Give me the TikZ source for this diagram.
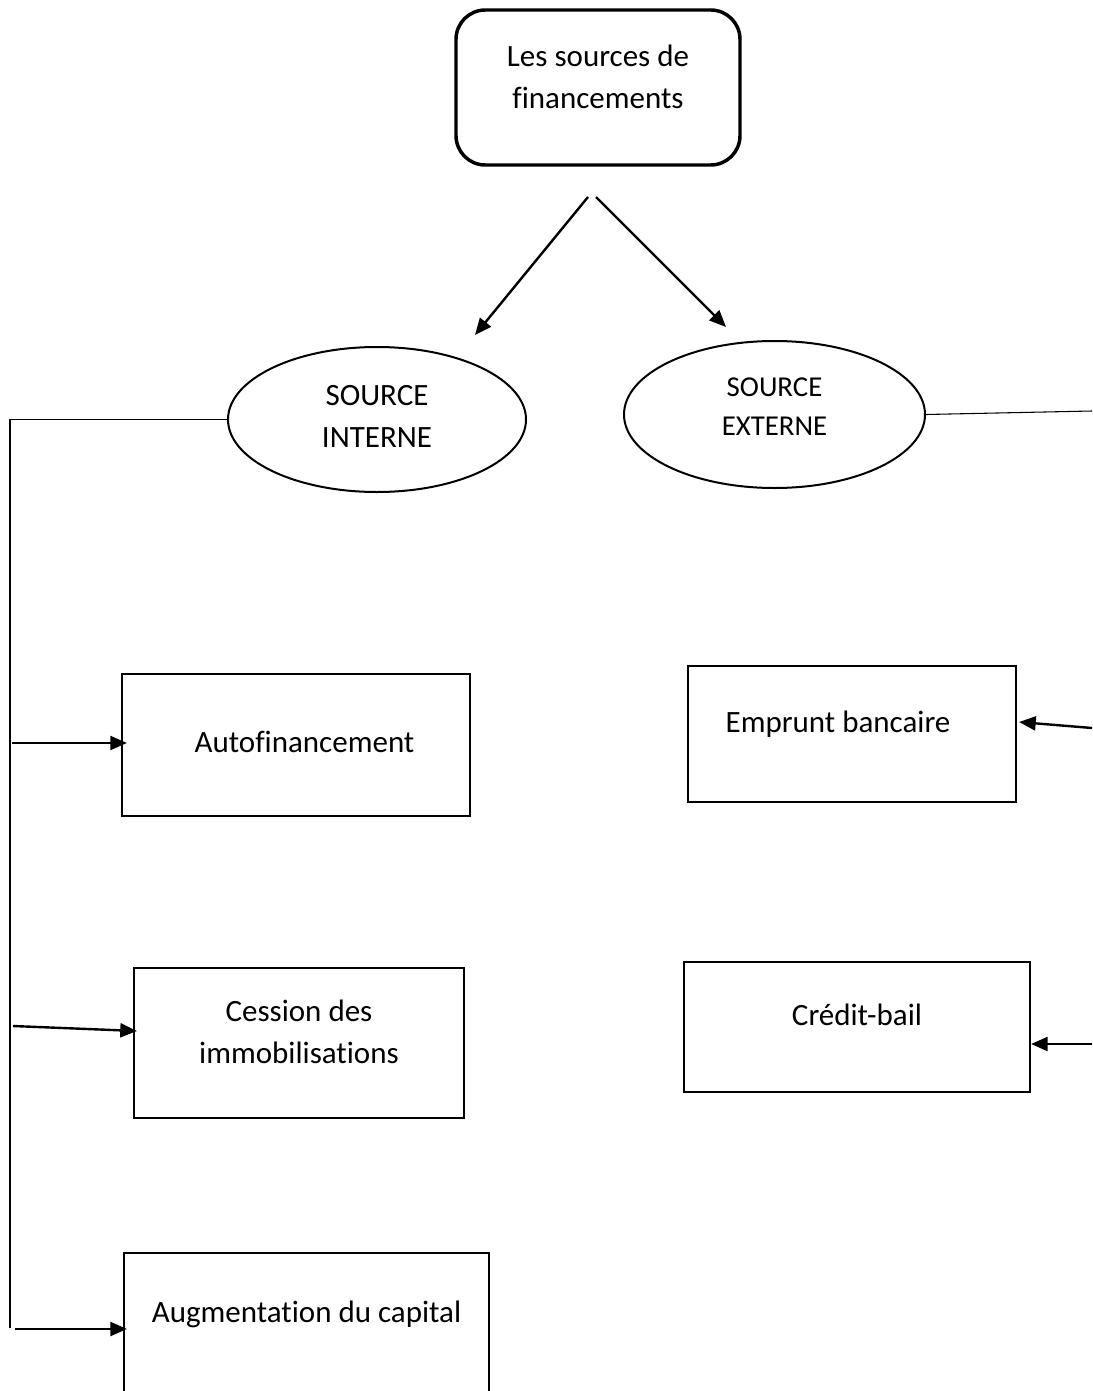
\documentclass[tikz,border=0pt]{standalone}
\usepackage{fontspec}
\setmainfont{Carlito}[Ligatures=NoCommon]
\usetikzlibrary{shapes.geometric,arrows.meta}
\begin{document}
\begin{tikzpicture}[x=0.75pt,y=-0.75pt,
  txt/.style={font=\fontsize{23.25pt}{31.5pt}\selectfont, text height=14.9pt, align=center},
  topbox/.style={txt, draw, rectangle, rounded corners=22pt, line width=2.6pt, inner sep=0pt},
  oval/.style={txt, draw, ellipse, line width=1.5pt, inner sep=0pt},
  boxnode/.style={txt, draw, rectangle, line width=1.6pt, inner sep=0pt},
  arr/.style={line width=1.8pt, -{Triangle[length=12.5pt,width=10.5pt]}},
  plain/.style={line width=0.8pt}
]
\useasboundingbox (0,0) rectangle (1092,1391);
\clip (0,0) rectangle (1092,1391);

% root
\node[topbox, minimum width=213pt, minimum height=116.25pt, text height=32.15pt, text depth=0pt]
  (top) at (598,87.5) {Les sources de\\financements};

% the two families of sources
\node[oval, minimum width=223.5pt, minimum height=108.75pt, text height=42.65pt, text depth=0pt]
  (intE) at (377,419.5) {SOURCE\\INTERNE};
\node[oval, font=\fontsize{21.6pt}{29.25pt}\selectfont, text height=31.8pt, text depth=0pt,
  minimum width=225.75pt, minimum height=110.25pt]
  (extE) at (774.5,414.5) {SOURCE\\EXTERNE};

% internal sources
\node[boxnode, minimum width=261pt, minimum height=106.5pt, text depth=3pt]
  (auto) at (296,745) {\hspace*{12.75pt}Autofinancement};
\node[boxnode, minimum width=247.5pt, minimum height=112.5pt, text height=30.65pt, text depth=0pt]
  (cess) at (299,1043) {Cession des\\immobilisations};
\node[boxnode, minimum width=273.75pt, minimum height=150pt, text depth=60pt]
  (augm) at (306.5,1353) {Augmentation du capital};

% external sources
\node[boxnode, minimum width=246pt, minimum height=102pt, text depth=16.5pt]
  (empr) at (852,734) {Emprunt bancaire\hspace*{21pt}};
\node[boxnode, minimum width=259.5pt, minimum height=97.5pt, text depth=16.5pt]
  (cred) at (857,1027) {Crédit-bail};

% split below the root
\coordinate (forkL) at (588,197);
\coordinate (tipL) at (475,335);
\coordinate (forkR) at (596,197);
\coordinate (tipR) at (726,327);
\draw[arr] (forkL) -- (tipL);
\draw[arr] (forkR) -- (tipR);

% internal branch
\coordinate (spineEnd) at (10,1328);
\draw[plain] (intE.west) -| (spineEnd);
\coordinate (stub1) at (12,743);
\coordinate (stub2) at (13,1026);
\coordinate (stub3) at (15,1329);
\draw[arr] (stub1) -- ([xshift=4.5pt]stub1 -| auto.west);
\draw[arr] (stub2) -- ([shift={(4,-12)}]cess.west);
\draw[arr] (stub3) -- ([xshift=3pt]stub3 -| augm.west);

% external branch
\coordinate (edgeTop) at (1092,411);
\draw[plain] (extE.east) -- (edgeTop);
\coordinate (edge1) at (1092,728);
\coordinate (edge2) at (1092,1044);
\draw[arr] (edge1) -- ([shift={(2,-12)}]empr.east);
\draw[arr] (edge2) -- (edge2 -| cred.east);
\end{tikzpicture}
\end{document}
